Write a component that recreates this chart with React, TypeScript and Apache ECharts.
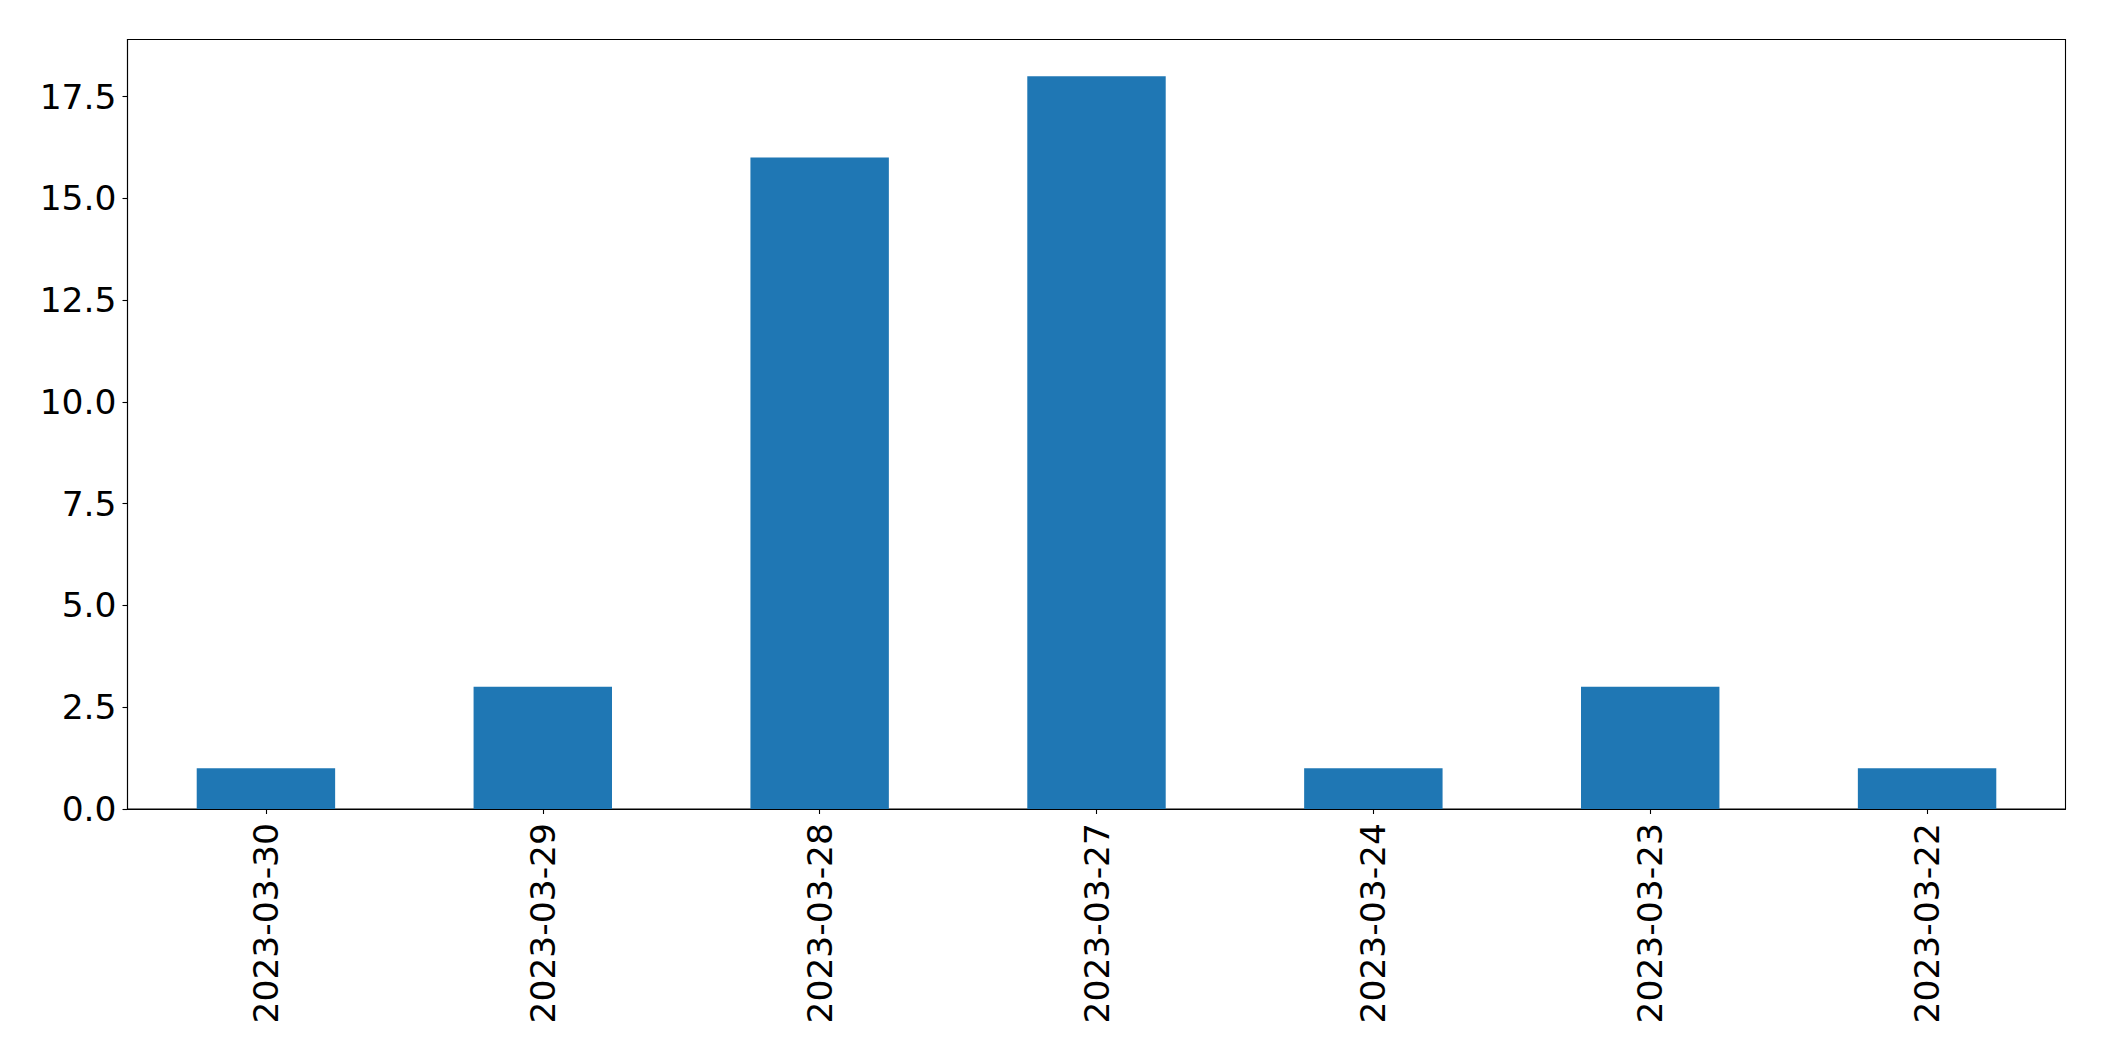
import React, { useEffect, useRef } from "react";
import * as echarts from "echarts";

const categories = ["2023-03-30", "2023-03-29", "2023-03-28", "2023-03-27", "2023-03-24", "2023-03-23", "2023-03-22"];
const values = [1, 3, 16, 18, 1, 3, 1];
const yTicks = [0, 2.5, 5, 7.5, 10, 12.5, 15, 17.5];

export default function App() {
  const ref = useRef<HTMLDivElement>(null);
  useEffect(() => {
    if (!ref.current) return;
    const chart = echarts.init(ref.current, null, { renderer: "svg" });
    const font = "DejaVu Sans";
    chart.setOption({
      animation: false,
      backgroundColor: "#ffffff",
      grid: {
        left: 127.5,
        right: 38.5,
        top: 39.5,
        bottom: 252,
        show: true,
        borderColor: "#000",
        borderWidth: 1.1,
        containLabel: false,
      },
      xAxis: {
        type: "category",
        data: categories,
        boundaryGap: true,
        axisLine: { show: true, lineStyle: { color: "#000", width: 1.1 } },
        axisTick: { show: true, alignWithLabel: true, length: 5, lineStyle: { color: "#000", width: 1.1 } },
        axisLabel: { rotate: 90, fontSize: 34.5, fontFamily: font, color: "#000", margin: 14, interval: 0 },
        splitLine: { show: false },
      },
      yAxis: {
        type: "value",
        min: 0,
        max: 18.9,
        axisLine: { show: true, lineStyle: { color: "#000", width: 1.1 } },
        axisTick: { show: true, length: 5, customValues: yTicks, lineStyle: { color: "#000", width: 1.1 } },
        axisLabel: {
          fontSize: 34.5,
          fontFamily: font,
          color: "#000",
          margin: 11,
          customValues: yTicks,
          formatter: (v: number) => v.toFixed(1),
        },
        splitLine: { show: false },
      },
      series: [
        {
          type: "bar",
          data: values,
          barWidth: "50%",
          itemStyle: { color: "#1f77b4" },
        },
      ],
    });
    return () => chart.dispose();
  }, []);
  return (
    <div
      ref={ref}
      style={{ position: "absolute", left: 0, top: 0, width: 2104, height: 1061 }}
    />
  );
}
